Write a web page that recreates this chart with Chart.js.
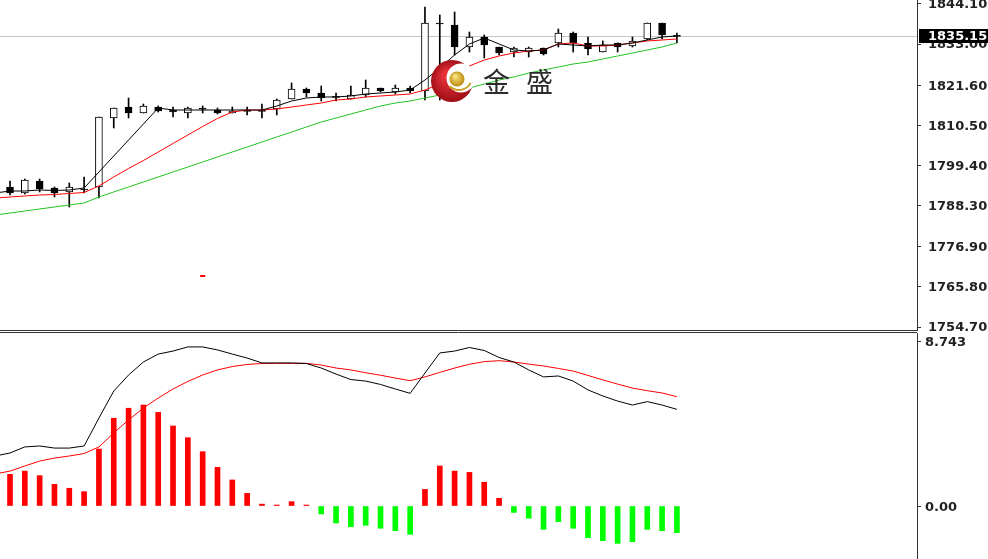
<!DOCTYPE html>
<html>
<head>
<meta charset="utf-8">
<script src="https://cdn.jsdelivr.net/npm/chart.js@4.4.0/dist/chart.umd.min.js"></script>
<style>
  html, body { margin: 0; padding: 0; background: #fff; overflow: hidden; }
  #wrap { position: relative; width: 988px; height: 559px; }
  canvas { position: absolute; left: 0; }
  #price { top: 0; width: 988px; height: 331px; }
  #macd { top: 331px; width: 988px; height: 228px; }
</style>
</head>
<body>
<div id="wrap">
  <canvas id="price" width="988" height="331"></canvas>
  <canvas id="macd" width="988" height="228"></canvas>
</div>
<script>
// bars -1..45 (the first one is only half visible at the left edge)
const opens  = [1791.79, 1793.45, 1791.79, 1795.11, 1793.17, 1792.07, 1792.75, 1793.45, 1812.55, 1815.59, 1813.93, 1815.59, 1814.76, 1813.93, 1815.10, 1814.76, 1813.93, 1814.48, 1814.55, 1815.04, 1817.81, 1820.57, 1819.47, 1818.36, 1817.81, 1818.91, 1820.85, 1819.74, 1820.85, 1820.02, 1838.66, 1838.29, 1832.20, 1834.97, 1832.20, 1830.81, 1830.81, 1831.92, 1833.31, 1836.07, 1833.31, 1830.81, 1833.31, 1832.48, 1834.41, 1838.84, 1835.30];
const highs  = [1794.00, 1795.11, 1795.66, 1795.66, 1793.45, 1794.56, 1796.22, 1812.82, 1815.31, 1818.08, 1816.42, 1815.87, 1815.59, 1815.59, 1815.87, 1815.31, 1815.59, 1815.59, 1816.42, 1817.81, 1822.23, 1820.85, 1821.40, 1819.47, 1821.40, 1823.06, 1820.85, 1821.68, 1821.40, 1843.27, 1841.06, 1841.89, 1836.35, 1835.52, 1832.20, 1832.20, 1832.20, 1831.92, 1837.18, 1836.35, 1834.97, 1833.86, 1833.31, 1834.97, 1838.84, 1838.84, 1836.07];
const lows   = [1791.50, 1791.23, 1791.51, 1792.07, 1790.68, 1787.91, 1791.79, 1790.40, 1809.78, 1812.55, 1813.93, 1814.21, 1812.82, 1812.55, 1813.93, 1813.65, 1813.93, 1813.38, 1812.55, 1813.38, 1817.81, 1818.36, 1817.25, 1817.25, 1817.81, 1818.36, 1819.74, 1819.19, 1819.47, 1817.53, 1817.53, 1829.98, 1830.81, 1829.15, 1829.98, 1829.43, 1829.43, 1829.98, 1832.20, 1830.81, 1829.98, 1830.81, 1830.81, 1832.20, 1834.14, 1834.41, 1833.31];
const closes = [1793.45, 1791.79, 1795.39, 1792.90, 1791.79, 1793.45, 1792.62, 1812.82, 1815.31, 1813.93, 1815.87, 1814.48, 1814.21, 1815.31, 1815.00, 1813.93, 1814.48, 1814.40, 1814.40, 1817.53, 1820.57, 1819.47, 1818.08, 1818.25, 1818.91, 1820.85, 1820.02, 1820.85, 1820.02, 1838.84, 1838.56, 1832.20, 1834.97, 1832.75, 1830.54, 1831.92, 1831.92, 1830.26, 1836.07, 1833.31, 1831.64, 1832.75, 1832.20, 1833.86, 1838.84, 1835.52, 1835.15];

const zigzag = [1791.80, 1792.34, 1792.34, 1792.62, 1792.48, 1792.62, 1793.17, null, null, null, null, 1815.31, 1814.76, 1814.76, 1814.76, 1814.76, 1814.76, 1814.76, 1814.76, 1815.87, 1817.25, 1818.08, 1818.36, 1818.36, 1818.64, 1819.19, 1819.47, 1819.74, 1820.30, 1823.06, 1826.38, 1829.98, 1833.03, 1834.69, 1833.03, 1831.37, 1831.09, 1831.37, 1833.03, 1832.75, 1832.48, 1832.75, 1832.75, 1833.31, 1834.14, 1834.97, 1835.24];
const maRed   = [1790.40, 1790.68, 1790.96, 1791.23, 1791.37, 1791.65, 1791.93, 1793.73, 1796.22, 1798.57, 1800.78, 1803.14, 1805.49, 1807.84, 1810.19, 1812.41, 1814.21, 1814.76, 1814.76, 1815.04, 1815.59, 1816.15, 1816.70, 1817.53, 1817.81, 1818.36, 1818.64, 1818.91, 1819.19, 1820.30, 1821.96, 1824.73, 1826.94, 1828.60, 1829.71, 1830.54, 1831.09, 1831.37, 1833.03, 1833.31, 1832.48, 1832.48, 1832.75, 1833.31, 1833.86, 1834.14, 1834.41];
const maGreen = [1785.70, 1786.25, 1786.81, 1787.36, 1787.91, 1788.47, 1789.02, 1790.68, 1792.07, 1793.45, 1794.83, 1796.22, 1797.60, 1798.98, 1800.37, 1801.75, 1803.14, 1804.52, 1805.90, 1807.29, 1808.67, 1810.06, 1811.44, 1812.55, 1813.65, 1814.76, 1815.87, 1816.70, 1817.25, 1818.08, 1818.91, 1819.74, 1820.85, 1821.96, 1823.06, 1823.90, 1825.00, 1825.83, 1826.66, 1827.49, 1828.05, 1828.88, 1829.71, 1830.54, 1831.37, 1832.20, 1833.31];

const macdHist   = [1.60, 1.68, 1.85, 1.61, 1.15, 0.94, 0.76, 3.02, 4.65, 5.18, 5.35, 4.96, 4.24, 3.62, 2.88, 2.05, 1.38, 0.67, 0.10, 0.05, 0.23, 0.04, -0.42, -0.90, -1.10, -1.02, -1.18, -1.31, -1.50, 0.88, 2.12, 1.85, 1.78, 1.26, 0.41, -0.34, -0.65, -1.24, -0.83, -1.18, -1.68, -1.84, -1.98, -1.89, -1.24, -1.31, -1.41];
const macdMain   = [2.65, 2.81, 3.13, 3.18, 3.07, 3.07, 3.18, 4.66, 6.09, 6.94, 7.63, 8.05, 8.21, 8.43, 8.43, 8.27, 8.05, 7.84, 7.58, 7.58, 7.58, 7.55, 7.31, 6.99, 6.70, 6.62, 6.44, 6.20, 5.97, 7.05, 8.11, 8.21, 8.40, 8.24, 7.87, 7.63, 7.21, 6.84, 6.89, 6.62, 6.15, 5.83, 5.56, 5.35, 5.53, 5.35, 5.12];
const macdSignal = [1.70, 1.85, 2.12, 2.38, 2.54, 2.65, 2.78, 3.13, 3.87, 4.56, 5.19, 5.72, 6.20, 6.60, 6.94, 7.21, 7.39, 7.50, 7.55, 7.56, 7.56, 7.56, 7.47, 7.31, 7.21, 7.06, 6.93, 6.78, 6.64, 6.84, 7.08, 7.31, 7.51, 7.65, 7.70, 7.63, 7.52, 7.42, 7.29, 7.15, 6.92, 6.68, 6.46, 6.25, 6.11, 5.99, 5.79];

const priceTicks = [1754.70, 1765.80, 1776.90, 1788.30, 1799.40, 1810.50, 1821.60, 1833.00, 1844.10];
const macdTicks = [0, 8.743];
const macdTickLabels = ['0.00', '8.743'];
const lastPrice = 1835.15;
const markerPoint = [{ x: 13, y: 1768.82 }];
const brand = ['金', '盛'];

const idx = opens.map((_, i) => i - 1);
const pts = arr => arr.map((v, i) => ({ x: idx[i], y: v }));
const bull = closes.map((c, i) => c - opens[i] > 0.2);

const X_MIN = -0.675, X_MAX = 61.2;
const axisFont = { family: 'DejaVu Sans', size: 13, weight: 'bold' };

// right-hand price axis: fixed width, no extra padding for the end labels
const rightAxis = (extra) => Object.assign({
  position: 'right',
  afterFit: s => { s.width = 71; s.paddingTop = 0; s.paddingBottom = 0; },
  grid: { drawOnChartArea: false, tickLength: 4, color: '#333', tickWidth: 1 },
  border: { color: '#333', width: 1 },
}, extra);

// gray last-price line + black price tag on the axis
const priceTag = {
  id: 'priceTag',
  beforeDatasetsDraw(chart) {
    const { ctx, chartArea: a, scales: { y } } = chart;
    const py = Math.round(y.getPixelForValue(lastPrice)) + 0.5;
    ctx.save();
    ctx.strokeStyle = '#c4c4c4'; ctx.lineWidth = 1;
    ctx.beginPath(); ctx.moveTo(a.left, py); ctx.lineTo(a.right, py); ctx.stroke();
    ctx.restore();
  },
  afterDraw(chart) {
    const { ctx, chartArea: a, scales: { y } } = chart;
    const py = Math.round(y.getPixelForValue(lastPrice));
    ctx.save();
    ctx.fillStyle = '#000';
    ctx.fillRect(a.right + 2, py - 7, 71, 14);
    ctx.fillStyle = '#fff';
    ctx.font = 'bold 13px "DejaVu Sans"';
    ctx.textBaseline = 'middle';
    ctx.fillText(lastPrice.toFixed(2), a.right + 11, py + 1);
    // panel bottom frame
    ctx.strokeStyle = '#333';
    ctx.beginPath(); ctx.moveTo(0, a.bottom - 0.5); ctx.lineTo(a.right, a.bottom - 0.5); ctx.stroke();
    ctx.restore();
  }
};

// watermark logo
const logo = {
  id: 'logo',
  afterDatasetsDraw(chart) {
    const ctx = chart.ctx;
    const cx = 452, cy = 81;
    ctx.save();
    let g = ctx.createRadialGradient(cx - 6, cy - 6, 3, cx, cy, 22);
    g.addColorStop(0, '#e8323a'); g.addColorStop(1, '#9c0d14');
    ctx.fillStyle = g;
    ctx.beginPath(); ctx.arc(cx, cy, 21, 0, Math.PI * 2); ctx.fill();
    ctx.fillStyle = '#fff';
    ctx.beginPath(); ctx.arc(cx + 9, cy - 3, 14.5, 0, Math.PI * 2); ctx.fill();
    g = ctx.createRadialGradient(cx + 3, cy - 5, 1, cx + 5, cy - 2, 8);
    g.addColorStop(0, '#f7e27a'); g.addColorStop(1, '#b8860b');
    ctx.fillStyle = g;
    ctx.beginPath(); ctx.arc(cx + 5, cy - 2, 7.5, 0, Math.PI * 2); ctx.fill();
    ctx.strokeStyle = '#c9a227'; ctx.lineWidth = 2;
    ctx.beginPath(); ctx.arc(cx + 7, cy - 4, 13, Math.PI * 0.15, Math.PI * 0.75); ctx.stroke();
    ctx.fillStyle = '#2b2b2b';
    ctx.font = '27px "Noto Sans CJK SC"';
    ctx.textBaseline = 'middle';
    ctx.fillText(brand[0], 483, cy + 1);
    ctx.fillText(brand[1], 526, cy + 1);
    ctx.restore();
  }
};

new Chart(document.getElementById('price'), {
  type: 'bar',
  data: {
    datasets: [
      { type: 'line', data: pts(zigzag), borderColor: '#000', borderWidth: 1, pointRadius: 0, spanGaps: true, order: 0 },
      { type: 'line', data: pts(maRed), borderColor: '#ff0000', borderWidth: 1, pointRadius: 0, order: 0 },
      { type: 'line', data: pts(maGreen), borderColor: '#22c322', borderWidth: 1, pointRadius: 0, order: 0 },
      { type: 'scatter', data: markerPoint, pointStyle: 'line', pointRadius: 2.5, borderColor: '#ff0000', borderWidth: 2, order: 0 },
      {
        data: idx.map((x, i) => ({ x, y: [opens[i], closes[i]] })),
        backgroundColor: c => bull[c.dataIndex] ? '#fff' : '#000',
        borderColor: '#000', borderWidth: 1, borderSkipped: false,
        barThickness: 7, minBarLength: 1, grouped: false, order: 1
      },
      {
        data: idx.map((x, i) => ({ x, y: [lows[i], highs[i]] })),
        backgroundColor: '#000', borderWidth: 0, barThickness: 1, grouped: false, order: 2
      }
    ]
  },
  options: {
    responsive: false, animation: false, devicePixelRatio: 1,
    layout: { padding: 0, autoPadding: false },
    plugins: { legend: { display: false }, tooltip: { enabled: false } },
    scales: {
      x: { type: 'linear', min: X_MIN, max: X_MAX, display: false, offset: false },
      y: rightAxis({
        min: 1753.593, max: 1845.207,
        afterBuildTicks: s => { s.ticks = priceTicks.map(v => ({ value: v })); },
        ticks: { callback: v => v.toFixed(2), font: axisFont, color: '#222', padding: 7, labelOffset: 1, autoSkip: false }
      })
    }
  },
  plugins: [priceTag, logo]
});

const macdFrame = {
  id: 'macdFrame',
  afterDraw(chart) {
    const { ctx, chartArea: a } = chart;
    ctx.save();
    ctx.strokeStyle = '#333'; ctx.lineWidth = 1;
    ctx.beginPath(); ctx.moveTo(0, a.top - 0.5); ctx.lineTo(a.right, a.top - 0.5); ctx.stroke();
    ctx.restore();
  }
};

new Chart(document.getElementById('macd'), {
  type: 'bar',
  data: {
    datasets: [
      { type: 'line', data: pts(macdMain), borderColor: '#000', borderWidth: 1, pointRadius: 0, order: 0 },
      { type: 'line', data: pts(macdSignal), borderColor: '#ff0000', borderWidth: 1, pointRadius: 0, order: 0 },
      {
        data: pts(macdHist),
        backgroundColor: c => macdHist[c.dataIndex] >= 0 ? '#ff0000' : '#00ff00',
        barThickness: 5, minBarLength: 1, grouped: false, order: 1
      }
    ]
  },
  options: {
    responsive: false, animation: false, devicePixelRatio: 1,
    layout: { padding: { top: 2 }, autoPadding: false },
    plugins: { legend: { display: false }, tooltip: { enabled: false } },
    scales: {
      x: { type: 'linear', min: X_MIN, max: X_MAX, display: false, offset: false },
      y: rightAxis({
        min: -2.808, max: 9.167,
        afterBuildTicks: s => { s.ticks = macdTicks.map(v => ({ value: v })); },
        ticks: { callback: (v, i) => macdTickLabels[i], font: axisFont, color: '#222', padding: 4, labelOffset: 2, autoSkip: false }
      })
    }
  },
  plugins: [macdFrame]
});
</script>
</body>
</html>
